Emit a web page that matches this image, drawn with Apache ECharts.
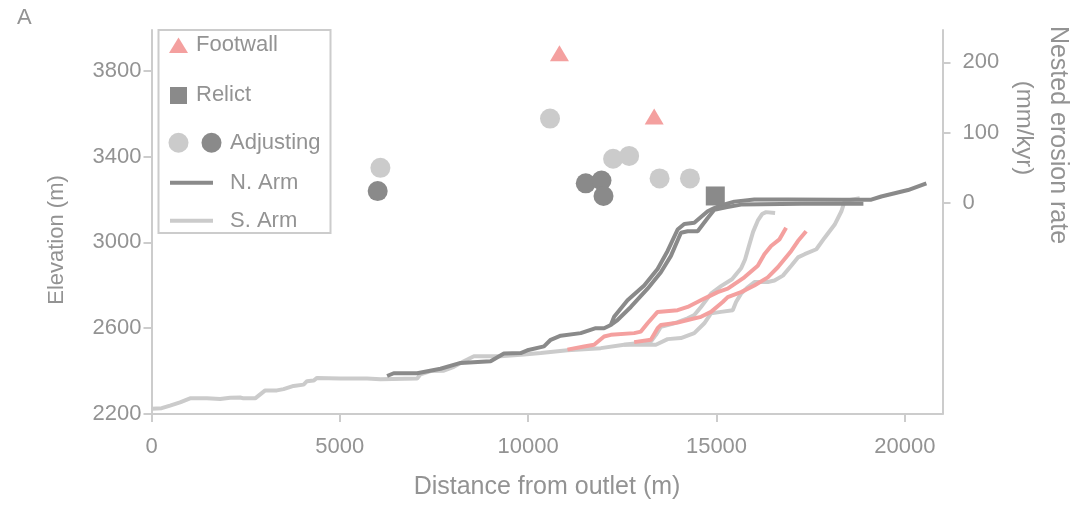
<!DOCTYPE html>
<html>
<head>
<meta charset="utf-8">
<title>Elevation profiles</title>
<script src="https://cdn.jsdelivr.net/npm/echarts@6/dist/echarts.min.js"></script>
<style>
  html, body { margin: 0; padding: 0; background: #fff; }
  #main { width: 1073px; height: 505px; }
</style>
</head>
<body>
<div id="main"></div>
<script>
// tick labels
var xTicks = [0, 5000, 10000, 15000, 20000];
var elevTicks = [2200, 2600, 3000, 3400, 3800];
var rateTicks = [0, 100, 200];

// river profiles: [distance from outlet (m), elevation (m)]
var sArmTrunk = [
  [5, 2224], [271, 2227], [492, 2239], [758, 2254], [1024, 2273], [1468, 2273],
  [1822, 2270], [2088, 2276], [2354, 2277], [2442, 2273], [2753, 2273], [3019, 2310],
  [3330, 2310], [3506, 2316], [3772, 2331], [4038, 2337], [4128, 2353], [4304, 2356],
  [4394, 2368], [5014, 2365], [5724, 2365], [6078, 2362], [7054, 2366], [7142, 2385],
  [7408, 2400], [7761, 2402], [8027, 2420], [8293, 2446], [8559, 2469], [9270, 2469],
  [9890, 2477], [10334, 2484], [11044, 2497], [11928, 2507], [12548, 2523], [13258, 2538],
  [13391, 2569], [13524, 2607], [13878, 2623], [14234, 2646], [14410, 2661], [14588, 2699],
  [14854, 2761], [15120, 2796], [15412, 2828], [15652, 2879], [15758, 2920], [15864, 2985],
  [15971, 3049], [16104, 3104], [16210, 3132], [16316, 3141], [16556, 3137]
];
var sArmBranch = [
  [12548, 2523], [13391, 2523], [13702, 2549], [14056, 2554], [14410, 2577], [14676, 2623],
  [14854, 2669], [15120, 2676], [15431, 2684], [15519, 2722], [15652, 2761], [15830, 2791],
  [16008, 2815], [16364, 2815], [16539, 2822], [16763, 2845], [16984, 2891], [17162, 2930],
  [17340, 2945], [17651, 2968], [17872, 3022], [18138, 3083], [18316, 3145], [18404, 3193],
  [18803, 3206]
];
var nArmMain = [
  [6255, 2377], [6431, 2390], [7053, 2390], [7673, 2411], [8205, 2438], [9003, 2446],
  [9356, 2482], [9801, 2484], [9979, 2497], [10420, 2515], [10598, 2546], [10864, 2565],
  [11396, 2577], [11795, 2600], [12016, 2600], [12194, 2615], [12282, 2653], [12638, 2730],
  [13080, 2799], [13436, 2876], [13702, 2960], [13968, 3060], [14144, 3086], [14410, 3091],
  [14766, 3145], [14941, 3160], [15120, 3172], [15473, 3190], [16005, 3200], [16894, 3200],
  [18311, 3199], [19109, 3199], [19375, 3214], [19729, 3229], [20085, 3244], [20572, 3275]
];
var nArmBranch = [
  [12194, 2615], [12372, 2638], [12726, 2699], [13170, 2784], [13524, 2861], [13790, 2937],
  [14056, 3045], [14234, 3052], [14500, 3052], [14766, 3114], [14941, 3152], [15253, 3164],
  [15652, 3176], [17247, 3180], [18900, 3180]
];
var pinkUpper = [
  [11043, 2500], [11484, 2515], [11750, 2523], [12016, 2561], [12194, 2569], [12814, 2577],
  [12992, 2584], [13170, 2623], [13436, 2676], [13968, 2684], [14234, 2699], [14676, 2738],
  [15032, 2768], [15298, 2784], [15740, 2837], [16096, 2891], [16271, 2945], [16449, 2983],
  [16670, 3014], [16848, 3068]
];
var pinkLower = [
  [12814, 2535], [13258, 2546], [13436, 2600], [13524, 2615], [13968, 2626], [14234, 2638],
  [14588, 2653], [14854, 2676], [15165, 2722], [15298, 2745], [15652, 2768], [16005, 2799],
  [16362, 2837], [16628, 2884], [16984, 2960], [17162, 3006], [17380, 3052]
];

// nested erosion rates: [distance (m), rate (mm/kyr)]
var footwall = [[10830, 213], [13346, 123]];
var relict = [[14968, 10]];
var adjustingLight = [[6077, 50], [10580, 120], [12255, 63], [12681, 67], [13489, 35], [14295, 35]];
var adjustingDark = [[6005, 17], [11529, 28], [11947, 32], [12000, 10]];

var DARK = '#8a8a8a', LIGHT = '#cbcbcb', PINK = '#f4a09f';
var TEXT = '#939393', AXIS = '#cccccc';
var FONT = '"Liberation Sans", Arial, sans-serif';
var FS = 22;

var myChart = echarts.init(document.getElementById('main'));

function lineSeries(data, color) {
  return {
    type: 'line', data: data, xAxisIndex: 0, yAxisIndex: 0,
    showSymbol: false, symbol: 'none', animation: false,
    lineStyle: { color: color, width: 4 }
  };
}

function pointSeries(data, symbol, size, color) {
  return {
    type: 'scatter', data: data, xAxisIndex: 0, yAxisIndex: 1,
    symbol: symbol, symbolSize: size, animation: false,
    itemStyle: { color: color, opacity: 1 }, z: 5
  };
}

function plain(v) { return String(v); }

function axisParts(ticks, margin) {
  return {
    axisLine: { show: true, onZero: false, lineStyle: { color: AXIS, width: 2 } },
    axisTick: { show: true, length: 8, customValues: ticks, lineStyle: { color: AXIS, width: 2 } },
    axisLabel: { customValues: ticks, formatter: plain, color: TEXT, fontSize: FS, fontFamily: FONT, margin: margin },
    splitLine: { show: false }
  };
}

function label(text, x, y, extra) {
  return Object.assign({
    type: 'text', x: x, y: y, z: 11,
    style: { text: text, fill: TEXT, fontSize: FS, fontFamily: FONT, verticalAlign: 'middle' }
  }, extra || {});
}

function vtitle(text, x, y, rot, size) {
  return {
    type: 'text', x: x, y: y, rotation: rot,
    style: { text: text, fill: TEXT, fontSize: size, fontFamily: FONT, align: 'center', verticalAlign: 'middle' }
  };
}

var option = {
  animation: false,
  backgroundColor: '#fff',
  textStyle: { fontFamily: FONT },
  grid: { left: 151.5, right: 130.5, top: 30, bottom: 86 },
  xAxis: Object.assign({
    type: 'value', min: 0, max: 21000,
    name: 'Distance from outlet (m)', nameLocation: 'middle', nameGap: 61,
    nameTextStyle: { color: TEXT, fontSize: 25, fontFamily: FONT }
  }, axisParts(xTicks, 22)),
  yAxis: [
    Object.assign({ type: 'value', min: 2200, max: 3990, position: 'left' }, axisParts(elevTicks, 10)),
    Object.assign({ type: 'value', min: -300, max: 246, position: 'right' }, axisParts(rateTicks, 20))
  ],
  series: [
    lineSeries(sArmTrunk, LIGHT),
    lineSeries(sArmBranch, LIGHT),
    lineSeries(nArmMain, DARK),
    lineSeries(nArmBranch, DARK),
    lineSeries(pinkUpper, PINK),
    lineSeries(pinkLower, PINK),
    pointSeries(adjustingLight, 'circle', 20, LIGHT),
    pointSeries(adjustingDark, 'circle', 20, DARK),
    pointSeries(footwall, 'triangle', [19, 16], PINK),
    pointSeries(relict, 'rect', 19, DARK)
  ],
  graphic: [
    label('A', 17, 18),
    // axis titles
    vtitle('Elevation (m)', 57, 240, Math.PI / 2, 22),
    vtitle('Nested erosion rate', 1058, 135, -Math.PI / 2, 25),
    vtitle('(mm/kyr)', 1024, 128, -Math.PI / 2, 24),
    // legend box
    { type: 'rect', shape: { x: 158.5, y: 30, width: 172, height: 203 },
      style: { fill: '#fff', stroke: AXIS, lineWidth: 2 }, z: 10 },
    { type: 'polygon', shape: { points: [[178.5, 37.5], [188, 53], [169, 53]] }, style: { fill: PINK }, z: 11 },
    label('Footwall', 196, 45),
    { type: 'rect', shape: { x: 170, y: 87, width: 17, height: 17 }, style: { fill: DARK }, z: 11 },
    label('Relict', 196, 95),
    { type: 'circle', shape: { cx: 178.5, cy: 142.7, r: 10 }, style: { fill: LIGHT }, z: 11 },
    { type: 'circle', shape: { cx: 211.5, cy: 142.7, r: 10 }, style: { fill: DARK }, z: 11 },
    label('Adjusting', 230, 143),
    { type: 'line', shape: { x1: 170, y1: 182.7, x2: 213, y2: 182.7 }, style: { stroke: DARK, lineWidth: 4 }, z: 11 },
    label('N. Arm', 230, 183),
    { type: 'line', shape: { x1: 170, y1: 220.7, x2: 213, y2: 220.7 }, style: { stroke: LIGHT, lineWidth: 4 }, z: 11 },
    label('S. Arm', 230, 221)
  ]
};

myChart.setOption(option);
</script>
</body>
</html>
